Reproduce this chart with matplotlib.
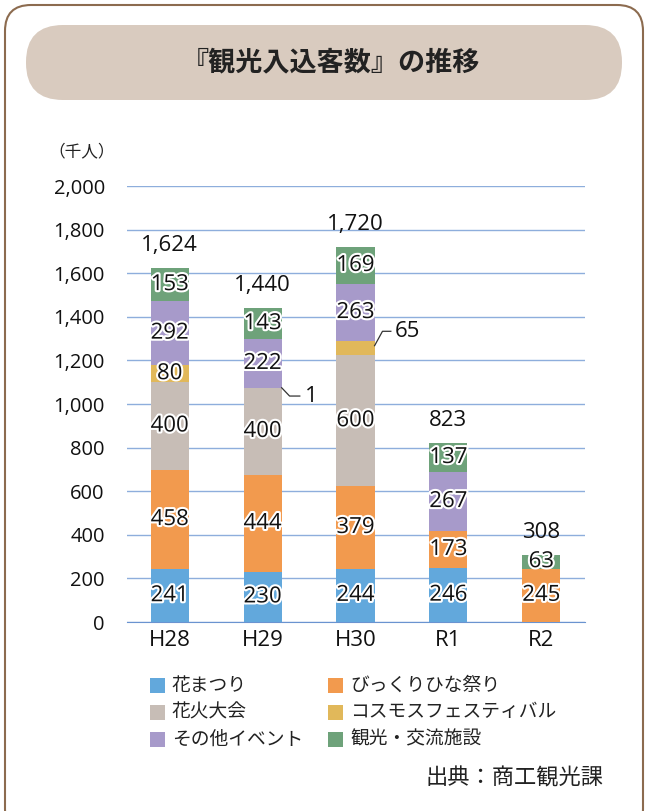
"""
観光入込客数の推移: stacked bar chart.
"""

import matplotlib
matplotlib.use("Agg")
import matplotlib.pyplot as plt
import matplotlib.patheffects as pe
from matplotlib.patches import FancyBboxPatch, Rectangle
import numpy as np

plt.rcParams["font.family"] = ["Noto Sans CJK JP", "DejaVu Sans"]
NUM_FONT = ["Open Sans", "Noto Sans CJK JP"]

years = ["H28", "H29", "H30", "R1", "R2"]
series_names = ["花まつり", "びっくりひな祭り", "花火大会",
                "コスモスフェスティバル", "その他イベント", "観光・交流施設"]
hana_matsuri = [241, 230, 244, 246, 0]
hina_matsuri = [458, 444, 379, 173, 245]
hanabi = [400, 400, 600, 0, 0]
cosmos = [80, 1, 65, 0, 0]
other_events = [292, 222, 263, 267, 0]
facilities = [153, 143, 169, 137, 63]
totals = [1624, 1440, 1720, 823, 308]
colors = ["#62A8DC", "#F29A4E", "#C7BDB6", "#E1B85A", "#A79ACA", "#6EA27A"]

yticks = [0, 200, 400, 600, 800, 1000, 1200, 1400, 1600, 1800, 2000]

W, H = 648, 811
fig = plt.figure(figsize=(W / 100, H / 100), dpi=100)

# background decoration in pixel coords
bg = fig.add_axes([0, 0, 1, 1], zorder=0)
bg.set_xlim(0, W)
bg.set_ylim(H, 0)
bg.axis("off")
bg.add_patch(FancyBboxPatch((5, 5), 638, 830, boxstyle="round,pad=0,rounding_size=26",
                            facecolor="white", edgecolor="#8C6B4F", linewidth=1.5))
bg.add_patch(FancyBboxPatch((26, 25), 596, 75, boxstyle="round,pad=0,rounding_size=37",
                            facecolor="#D9CBBF", edgecolor="none"))
bg.text(331, 62, "『観光入込客数』の推移", ha="center", va="center",
        fontsize=19.5, fontweight="bold", color="#222222")
bg.text(82, 152, "（千人）", ha="center", va="center", fontsize=12, color="#222222")

# legend, drawn by hand to match the two-column layout
leg_x = [150, 328]
leg_y = [685, 712, 739]
for i, name in enumerate(series_names):
    col, row = i % 2, i // 2
    bg.add_patch(Rectangle((leg_x[col], leg_y[row] - 7.5), 15, 15,
                           facecolor=colors[i], edgecolor="none"))
    bg.text(leg_x[col] + 22, leg_y[row], name, ha="left", va="center",
            fontsize=13.5, color="#222222")
bg.text(603, 778, "出典：商工観光課", ha="right", va="center", fontsize=16, color="#222222")

# chart
ax = fig.add_axes([127 / W, 1 - 622 / H, (585 - 127) / W, (622 - 186) / H], zorder=1)
ax.patch.set_alpha(0)
x = np.arange(len(years))
stack = [hana_matsuri, hina_matsuri, hanabi, cosmos, other_events, facilities]
bottom = np.zeros(len(years))
stroke = [pe.withStroke(linewidth=3, foreground="white")]
half = 0.205
for k, vals in enumerate(stack):
    vals = np.array(vals, dtype=float)
    ax.bar(x, vals, bottom=bottom, width=2 * half, color=colors[k], zorder=3)
    for i, v in enumerate(vals):
        if v <= 0:
            continue
        ycen = bottom[i] + v / 2
        if k == 3 and v < 70:
            # small cosmos values sit outside with a leader line
            if v < 10:
                ty = ycen - 38
                lx = [x[i] + half, x[i] + 0.29, x[i] + 0.4]
                ly = [ycen, ty, ty]
                tx = x[i] + 0.46
            else:
                ty = ycen + 78
                lx = [x[i] + half, x[i] + 0.29, x[i] + 0.38]
                ly = [ycen + 12, ty, ty]
                tx = x[i] + 0.42
            ax.plot(lx, ly, color="#333333", lw=0.9, zorder=4, clip_on=False)
            ax.text(tx, ty, f"{int(v)}", ha="left", va="center", fontsize=16,
                    family=NUM_FONT, color="#111111", zorder=4)
            continue
        ax.text(x[i], ycen, f"{int(v)}", ha="center", va="center", fontsize=16,
                family=NUM_FONT, color="#111111", path_effects=stroke, zorder=4)
    bottom += vals

for i, t in enumerate(totals):
    ax.annotate(f"{t:,}", xy=(x[i], t), xytext=(0, 16), textcoords="offset points",
                ha="center", va="center", fontsize=16, family=NUM_FONT,
                color="#111111", zorder=4)

ax.set_xlim(-0.46, 4.47)
ax.set_ylim(0, 2000)
ax.set_yticks(yticks)
ax.set_yticklabels([f"{v:,}" for v in yticks], fontsize=14.5, family=NUM_FONT)
ax.set_xticks(x)
ax.set_xticklabels(years, fontsize=16, family=NUM_FONT)
ax.tick_params(axis="y", length=0, pad=16, colors="#111111")
ax.tick_params(axis="x", length=0, pad=6, colors="#111111")
ax.grid(axis="y", color="#8EAEDC", linewidth=1, zorder=0)
ax.set_axisbelow(True)
for s in ["top", "right", "left"]:
    ax.spines[s].set_visible(False)
ax.spines["bottom"].set_color("#6A93D0")

fig.savefig("out.png", dpi=100)
